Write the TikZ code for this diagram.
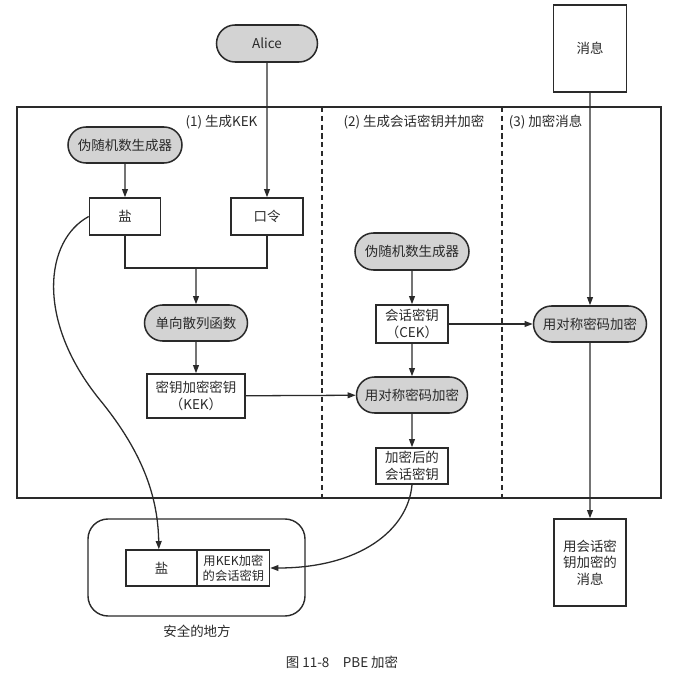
\documentclass[tikz,border=0pt]{standalone}
\usepackage{fontspec}
\setmainfont{Noto Sans CJK SC}
\usetikzlibrary{arrows.meta,shapes.misc}
\definecolor{ink}{HTML}{2A2A2A}
\definecolor{pillfill}{HTML}{D3D3D3}
\tikzset{
  every node/.style={font=\fontsize{11.5}{14}\selectfont, text=ink, align=center, inner sep=0pt},
  pill/.style={rounded rectangle, draw=ink, line width=1.3pt, fill=pillfill, minimum height=1.08cm},
  box/.style={rectangle, draw=ink, line width=1.3pt, fill=white},
  conn/.style={draw=ink, line width=1.1pt},
  arr/.style={conn, -{Triangle[length=7pt,width=5pt]}},
  frame/.style={draw=ink, line width=1.2pt},
  sep/.style={draw=ink, line width=1.2pt, dash pattern=on 4.5pt off 3pt},
}
\begin{document}
\begin{tikzpicture}[x=0.03cm,y=-0.03cm]
\useasboundingbox (0,0) rectangle (692,685);
% big frame and column separators
\draw[frame] (17,107) rectangle (661,498);
\draw[sep] (322,107) -- (322,498);
\draw[sep] (502,107) -- (502,498);
\node at (221.5,122) {(1) 生成KEK};
\node at (414,122) {(2) 生成会话密钥并加密};
\node at (545.5,122) {(3) 加密消息};
% safe place
\draw[frame, rounded corners=0.6cm] (88,519) rectangle (305,616);
\node (safe) at (197,631) {安全的地方};
% nodes
\node[pill, minimum width=3.03cm, minimum height=1.11cm] (alice) at (267,43.5) {Alice};
\node[box, minimum width=2.19cm, minimum height=2.61cm] (msg) at (590,48.5) {消息};
\node[pill, minimum width=3.42cm] (prng1) at (125,145) {伪随机数生成器};
\node[box, minimum width=2.13cm, minimum height=1.11cm] (salt) at (125,216.5) {盐};
\node[box, minimum width=2.16cm, minimum height=1.11cm] (pwd) at (267,216.5) {口令};
\coordinate (j) at (196,268);
\node[pill, minimum width=3.09cm] (hash) at (196,323) {单向散列函数};
\node[box, minimum width=2.94cm, minimum height=1.32cm] (kek) at (196,396) {密钥加密密钥\\（KEK）};
\node[pill, minimum width=3.42cm, minimum height=1.11cm] (prng2) at (412,251.5) {伪随机数生成器};
\node[box, minimum width=2.16cm, minimum height=1.14cm] (cek) at (412,324) {会话密钥\\（CEK）};
\node[pill, minimum width=3.33cm] (enc1) at (412,395) {用对称密码加密};
\node[box, minimum width=2.16cm, minimum height=1.08cm] (encsk) at (412,466) {加密后的\\会话密钥};
\node[pill, minimum width=3.39cm] (enc2) at (590,324) {用对称密码加密};
\node[box, minimum width=2.16cm, minimum height=2.61cm] (result) at (590,562.5) {用会话密\\钥加密的\\消息};
\node[box, minimum width=2.13cm, minimum height=1.08cm] (isalt) at (161.5,568) {盐};
\node[box, minimum width=2.16cm, minimum height=1.08cm, font=\fontsize{10.5}{13}\selectfont] (ikey) at (233.5,568) {用KEK加密\\的会话密钥};
\node (cap) at (342,662) {图 11-8\quad PBE 加密};
% connectors
\draw[arr] (alice) -- (pwd);
\draw[arr] (prng1) -- (salt);
\draw[conn] (salt.south) |- (j) -| (pwd.south);
\draw[arr] (j) -- (hash);
\draw[arr] (hash) -- (kek);
\draw[arr] (kek) -- (enc1);
\draw[arr] (prng2) -- (cek);
\draw[arr] (cek) -- (enc1);
\draw[arr] (enc1) -- (encsk);
\draw[arr] (cek) -- (enc2);
\draw[arr] (msg) -- (enc2);
\draw[arr] (enc2) -- (result);
\draw[arr] (salt.west) .. controls (45,240) and (35,320) .. (100,400)
  .. controls (145,455) and (158,500) .. ([xshift=-0.08cm]isalt.north);
\draw[arr] (encsk.south) .. controls (408,530) and (360,568) .. (ikey.east);
\end{tikzpicture}
\end{document}
